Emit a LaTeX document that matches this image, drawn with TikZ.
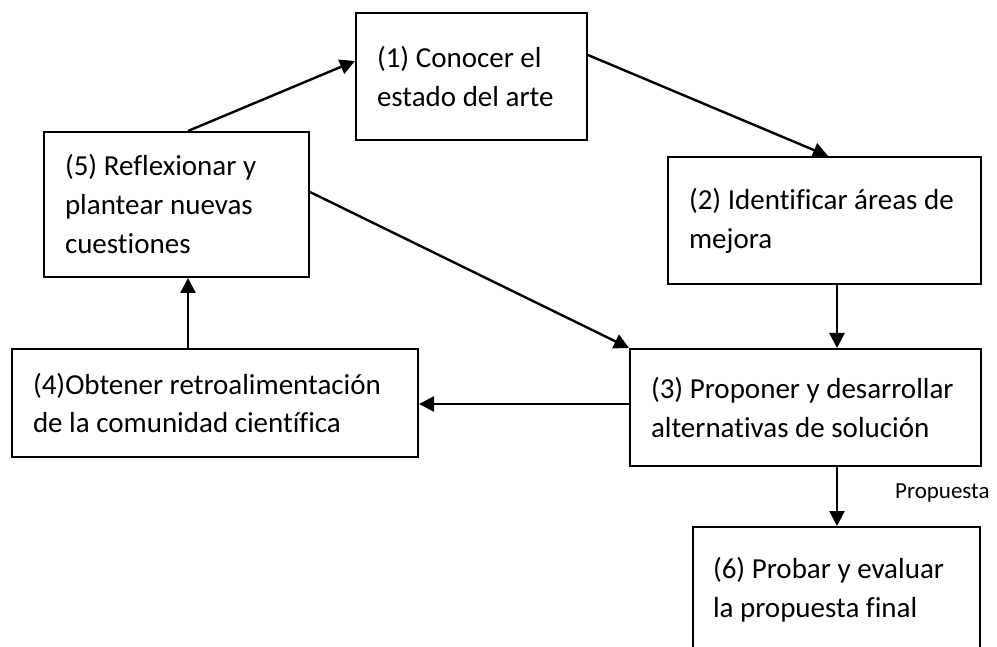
\documentclass[tikz,border=0pt]{standalone}
\usepackage{fontspec}
\setmainfont[Ligatures=CommonOff]{Carlito}
\usetikzlibrary{arrows.meta}
\newcommand{\boxtext}[1]{\spaceskip=0pt\xspaceskip=0pt\relax #1}
\begin{document}
\begin{tikzpicture}[x=1pt,y={(0,-1pt)},
  box/.style={draw=black, line width=2pt, rectangle, inner xsep=21pt, inner ysep=0pt,
    align=left, font=\fontsize{29}{39}\selectfont, anchor=center},
  arr/.style={line width=2.4pt, -{Triangle[length=15pt,width=15pt]}},
  lab/.style={font=\fontsize{23}{27}\selectfont, inner sep=0pt}]
\useasboundingbox (0,0) rectangle (997,647);
\node[box, minimum width=231pt, minimum height=127pt, text width=189pt] (b1) at (471.5,76.5) {\boxtext{\mbox{(1) Conocer el}\\\mbox{estado del arte}}};
\node[box, minimum width=313pt, minimum height=127pt, text width=271pt] (b2) at (824.5,220.5) {\boxtext{\mbox{(2) Identificar áreas de}\\\mbox{mejora}}};
\node[box, minimum width=351pt, minimum height=117pt, text width=309pt] (b3) at (805.5,407.5) {\boxtext{\mbox{(3) Proponer y desarrollar}\\\mbox{alternativas de solución}}};
\node[box, minimum width=406pt, minimum height=108pt, text width=364pt] (b4) at (215,403) {\boxtext{\mbox{(4)Obtener retroalimentación}\\\mbox{de la comunidad científica}}};
\node[box, minimum width=265pt, minimum height=145pt, text width=223pt] (b5) at (176.5,204.5) {\boxtext{\mbox{(5) Reflexionar y}\\\mbox{plantear nuevas}\\\mbox{cuestiones}}};
\node[box, minimum width=287pt, minimum height=126pt, text width=247pt, inner xsep=20pt] (b6) at (836.5,590) {\boxtext{\mbox{(6) Probar y evaluar}\\\mbox{la propuesta final}}};
\coordinate (p51) at ([xshift=11.5pt]b5.north);
\coordinate (q51) at ([yshift=15.5pt]b1.west);
\coordinate (p12) at ([yshift=21.5pt]b1.east);
\coordinate (q12) at ([xshift=3.5pt]b2.north);
\coordinate (p53) at ([yshift=12.5pt]b5.east);
\coordinate (p23) at ([xshift=12.5pt]b2.south);
\coordinate (p34) at ([yshift=3.5pt]b3.west);
\coordinate (p45) at ([xshift=-27pt]b4.north);
\coordinate (p36) at ([xshift=31.5pt]b3.south);
\draw[arr] (p51) -- (q51);
\draw[arr] (p12) -- (q12);
\draw[arr] (p53) -- (b3.north west);
\draw[arr] (p23) -- (p23 |- b3.north);
\draw[arr] (p34) -- (p34 -| b4.east);
\draw[arr] (p45) -- (p45 |- b5.south);
\draw[arr] (p36) -- (p36 |- b6.north);
\node[lab, anchor=base west] (lp) at (895,498) {Propuesta};
\end{tikzpicture}
\end{document}
